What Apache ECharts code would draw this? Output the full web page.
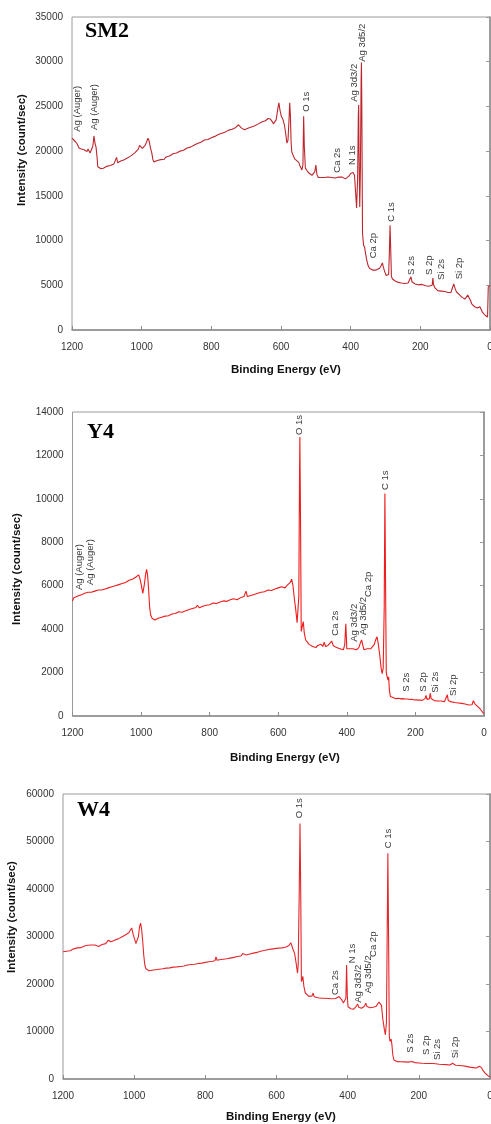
<!DOCTYPE html>
<html>
<head>
<meta charset="utf-8">
<script src="https://cdn.jsdelivr.net/npm/echarts@6/dist/echarts.min.js"></script>
<style>
html,body{margin:0;padding:0;background:#fff;}
#chart{width:491px;height:1124px;}
</style>
</head>
<body>
<div id="chart"></div>
<script>
// ---------- data (binding energy eV, intensity counts/sec) ----------
const panelNames = ['SM2', 'Y4', 'W4'];
const energyTicks = [1200, 1000, 800, 600, 400, 200, 0];
const yMax = [35000, 14000, 60000];
const yStep = [5000, 2000, 10000];

const sm2Spectrum = [
[1200,21450],[1195,21300],[1190,21050],[1185,20800],[1180,20350],[1177,20150],[1173,20250],[1169,20050],[1165,20150],[1161,19950],[1157,19950],[1154,20250],[1151,20300],[1148,19800],[1146,19600],[1143,19750],[1140,20600],[1137,21700],[1134,20900],[1131,20450],[1128,19300],[1126,18250],[1122,18150],[1118,18050],[1114,18100],[1110,18080],[1105,18200],[1100,18300],[1095,18250],[1090,18400],[1085,18450],[1080,18550],[1075,18600],[1072,19300],[1069,18700],[1065,18800],[1060,18900],[1055,18850],[1050,19050],[1045,19100],[1040,19250],[1035,19300],[1030,19500],[1025,19600],[1020,19800],[1015,19950],[1010,20200],[1006,20650],[1002,20500],[998,20300],[994,20350],[990,20650],[986,21000],[982,21450],[979,21200],[975,20400],[971,19800],[968,19100],[965,18800],[960,18850],[955,18950],[950,19000],[945,19050],[940,19150],[935,19100],[930,19350],[925,19250],[920,19450],[915,19500],[910,19700],[905,19600],[900,19800],[895,19900],[890,20000],[885,19950],[880,20100],[875,20250],[870,20350],[865,20300],[860,20450],[855,20550],[850,20650],[845,20600],[840,20850],[835,20950],[830,21000],[825,21100],[820,21250],[815,21200],[810,21300],[805,21450],[800,21500],[795,21550],[790,21650],[785,21750],[780,21850],[775,21800],[770,22000],[765,22100],[760,22150],[755,22200],[750,22350],[745,22300],[740,22450],[735,22500],[730,22650],[726,22750],[722,22950],[718,22800],[714,22600],[710,22500],[705,22400],[700,22450],[695,22550],[690,22600],[685,22700],[680,22800],[675,22850],[670,23000],[665,23050],[660,23200],[655,23250],[650,23350],[645,23400],[640,23500],[637,23650],[634,23800],[631,23600],[628,23550],[625,23300],[622,23050],[618,23150],[614,23500],[612,24000],[608,25000],[606,25400],[603,24600],[599,23900],[595,23600],[590,22900],[586,21800],[583,20900],[580,21200],[577,23500],[575,25400],[573,24000],[571,21000],[569,19900],[565,19500],[560,19100],[555,18950],[549,18750],[545,18300],[540,17900],[537,18500],[535,23900],[533,20500],[530,18100],[525,17800],[520,17550],[515,17400],[511,17300],[507,17350],[503,17700],[500,18450],[497,17400],[493,17050],[489,17000],[485,17050],[480,16950],[475,17050],[470,17000],[465,17100],[460,16950],[455,17050],[450,17100],[445,17000],[440,17050],[435,17100],[430,17000],[425,17100],[420,17050],[415,16900],[410,17000],[405,17200],[400,17500],[397,17700],[393,17600],[389,17300],[386,15500],[383,13650],[380,17000],[378,24000],[377,25150],[376,20000],[374,13750],[372,18000],[370,28000],[369,29900],[368,25000],[366,10850],[363,9500],[360,9250],[357,8500],[354,7850],[350,7200],[346,6900],[342,6750],[337,6700],[332,6750],[327,6700],[322,6800],[317,6900],[313,7150],[309,7500],[306,7000],[302,6500],[298,6100],[295,6000],[291,6200],[289,8500],[287,11700],[285,9000],[283,6000],[280,5700],[276,5550],[271,5450],[265,5350],[260,5300],[255,5250],[250,5250],[245,5200],[240,5250],[235,5250],[230,5350],[227,5950],[224,5400],[220,5250],[215,5150],[210,5100],[205,5050],[200,5000],[195,5100],[190,5000],[185,4950],[180,4900],[175,4900],[170,4850],[166,5000],[164,5800],[162,5050],[158,4700],[154,4500],[150,4400],[145,4400],[140,4350],[135,4350],[130,4300],[125,4250],[120,4200],[116,4200],[112,4200],[108,4700],[104,5150],[100,4600],[96,4250],[92,4150],[88,3950],[84,3800],[80,3650],[76,3550],[72,3450],[68,3550],[64,3900],[60,3700],[56,3300],[52,2900],[48,2700],[44,2600],[40,2500],[36,2450],[32,2500],[29,2600],[26,2350],[22,2000],[18,1800],[14,1650],[10,1450],[7,1450],[5,4800],[3,5000],[0,5000]
];

const y4Spectrum = [
[1200,5300],[1196,5450],[1192,5400],[1188,5500],[1184,5450],[1180,5550],[1176,5500],[1172,5600],[1168,5550],[1164,5650],[1160,5600],[1155,5700],[1150,5650],[1145,5700],[1140,5650],[1135,5750],[1130,5700],[1125,5800],[1120,5750],[1115,5800],[1110,5750],[1105,5850],[1100,5800],[1095,5900],[1090,5850],[1085,5950],[1080,5900],[1075,6000],[1070,5950],[1065,6050],[1060,6000],[1055,6100],[1050,6050],[1045,6150],[1040,6100],[1035,6250],[1030,6200],[1025,6300],[1020,6250],[1015,6400],[1010,6350],[1007,6500],[1003,6300],[999,6000],[995,5650],[991,6000],[987,6500],[984,6750],[981,6500],[978,5800],[975,5000],[972,4650],[968,4500],[964,4450],[960,4420],[955,4480],[950,4500],[945,4470],[940,4550],[935,4530],[930,4600],[925,4580],[920,4620],[915,4680],[910,4700],[905,4650],[900,4720],[895,4780],[890,4800],[885,4740],[880,4780],[875,4830],[870,4850],[865,4820],[860,4900],[855,4920],[850,4950],[845,4900],[840,5000],[836,5100],[830,4980],[825,5020],[820,5050],[815,5000],[810,5100],[805,5080],[800,5120],[795,5170],[790,5200],[785,5150],[780,5180],[775,5230],[770,5250],[765,5220],[760,5300],[755,5260],[750,5280],[745,5330],[740,5350],[735,5300],[730,5400],[725,5380],[720,5350],[715,5420],[710,5450],[705,5400],[700,5500],[697,5520],[694,5750],[690,5500],[685,5520],[680,5550],[675,5600],[670,5600],[665,5580],[660,5650],[655,5700],[650,5700],[645,5660],[640,5720],[635,5780],[630,5800],[625,5750],[620,5780],[615,5830],[610,5850],[605,5820],[600,5900],[595,5880],[590,5950],[585,5920],[580,5900],[575,6000],[570,5950],[565,6150],[561,6300],[557,6000],[553,5400],[549,4900],[545,4300],[542,4250],[540,5500],[538,11000],[537,12850],[535,9000],[533,3900],[530,3900],[527,4350],[524,3800],[520,3500],[515,3400],[510,3300],[505,3250],[500,3200],[495,3250],[490,3150],[485,3250],[480,3200],[475,3300],[470,3200],[466,3400],[462,3200],[455,3250],[450,3200],[444,3450],[440,3250],[435,3200],[430,3150],[425,3200],[420,3100],[415,3100],[410,3050],[406,3300],[403,4250],[400,3100],[397,3050],[392,3100],[387,3050],[382,3100],[377,3150],[372,3050],[368,3100],[365,3150],[362,3300],[357,3500],[354,3300],[350,3050],[346,3050],[340,3100],[335,3050],[330,3100],[325,3150],[320,3300],[316,3500],[312,3650],[308,3300],[304,2800],[300,2200],[297,1950],[294,2200],[291,5000],[289,10250],[287,6000],[285,2000],[283,1850],[280,1650],[278,1800],[276,1200],[273,900],[268,850],[262,830],[256,800],[250,820],[244,790],[238,800],[235,830],[230,780],[226,850],[222,780],[216,760],[210,770],[204,740],[198,750],[192,730],[186,740],[180,720],[175,750],[172,800],[169,950],[166,760],[162,700],[159,800],[157,1050],[154,800],[150,720],[145,710],[140,700],[135,690],[130,680],[125,690],[120,670],[115,660],[110,700],[107,980],[104,700],[100,680],[95,650],[90,640],[85,620],[80,610],[75,600],[70,590],[65,580],[60,560],[55,550],[50,520],[45,510],[40,500],[35,520],[31,700],[29,750],[26,550],[22,500],[18,430],[14,380],[10,300],[6,220],[3,150],[0,120]
];

const w4Spectrum = [
[1200,26800],[1195,26700],[1190,26900],[1185,27100],[1180,27000],[1175,27300],[1170,27400],[1165,27300],[1160,27600],[1155,27700],[1150,27650],[1145,27900],[1140,28000],[1135,27900],[1130,28150],[1125,28300],[1120,28200],[1115,28400],[1110,28200],[1105,28000],[1100,27900],[1095,28100],[1090,28300],[1085,28400],[1080,28500],[1076,28700],[1073,29200],[1070,28800],[1065,28900],[1060,29100],[1055,29200],[1050,29400],[1045,29500],[1040,29700],[1035,29900],[1030,30100],[1025,30300],[1020,30400],[1015,30800],[1011,31200],[1007,31800],[1003,30500],[999,29500],[995,28500],[991,28300],[988,30000],[985,32000],[982,32800],[979,31500],[976,29000],[973,26000],[970,24000],[967,23200],[963,22900],[958,22800],[950,22900],[945,22850],[940,23000],[935,22950],[930,23100],[925,23050],[920,23200],[915,23250],[910,23350],[905,23300],[900,23400],[895,23500],[890,23550],[885,23500],[880,23600],[875,23650],[870,23700],[865,23650],[860,23800],[855,23900],[850,24000],[845,23950],[840,24100],[835,24350],[830,24150],[825,24250],[820,24300],[815,24250],[810,24400],[805,24500],[800,24550],[795,24600],[790,24700],[785,24650],[780,24800],[776,24850],[773,24900],[770,25700],[767,25000],[763,25050],[760,25100],[755,25150],[750,25200],[745,25250],[740,25300],[735,25350],[730,25450],[725,25500],[720,25600],[715,25700],[710,25800],[705,25750],[700,25900],[695,26400],[690,26000],[685,26100],[680,26200],[675,26300],[670,26400],[665,26500],[660,26600],[655,26650],[650,26800],[645,26900],[640,27000],[635,27050],[630,27100],[625,27200],[620,27300],[615,27350],[610,27400],[605,27450],[600,27500],[595,27550],[590,27650],[585,27600],[580,27700],[575,27750],[570,27800],[565,28100],[560,28700],[557,28400],[553,27200],[549,26400],[545,24500],[541,22300],[539,24000],[536,40000],[534,53800],[532,40000],[530,20500],[528,21000],[526,21600],[523,19500],[519,18100],[514,17700],[509,17400],[504,17300],[500,17500],[497,18100],[494,17300],[489,17200],[484,17100],[479,17200],[474,17000],[469,17100],[464,17000],[459,17050],[454,16950],[449,17000],[444,16900],[439,17000],[434,16950],[429,17100],[424,17350],[420,17200],[416,16600],[412,16000],[408,15600],[405,17000],[403,24000],[401,17500],[399,15200],[395,15000],[391,14800],[387,15000],[383,14700],[379,15000],[376,15300],[372,15800],[369,15100],[365,15000],[361,14900],[357,15100],[353,15300],[349,15950],[346,15300],[342,15100],[338,15000],[333,15200],[328,15100],[324,15200],[320,15300],[316,15700],[312,16200],[308,16600],[305,15500],[301,12500],[297,10500],[294,9300],[291,12000],[289,30000],[287,47500],[285,30000],[283,9000],[281,7900],[278,8400],[276,7500],[273,5000],[270,4000],[265,3700],[260,3650],[255,3600],[250,3620],[245,3580],[240,3600],[235,3550],[230,3560],[225,3500],[220,3700],[216,3500],[210,3450],[205,3400],[200,3380],[195,3350],[190,3300],[185,3320],[180,3250],[175,3280],[170,3250],[165,3200],[160,3250],[156,3400],[153,3200],[148,3150],[143,3100],[138,3080],[133,3050],[128,3000],[123,3020],[118,2980],[113,2950],[108,3050],[105,3300],[102,3000],[97,2900],[92,2870],[87,2850],[82,2820],[77,2800],[72,2700],[67,2650],[62,2550],[57,2500],[52,2450],[47,2400],[42,2350],[38,2300],[34,2350],[30,2700],[27,2950],[24,2400],[20,1800],[16,1400],[12,1100],[8,800],[4,600],[0,490]
];

// peak annotations: [label, energy (eV), intensity at the label's lower end]
const sm2Peaks = [
['Ag (Auger)',1184,22170],['Ag (Auger)',1136,22360],['O 1s',528,24400],['Ca 2s',439,17590],['N 1s',396,18450],
['Ag 3d3/2',389,25520],['Ag 3d5/2',365,30000],['C 1s',282,12110],['Ca 2p',334,8010],
['S 2s',225,6150],['S 2p',174,6150],['Si 2s',139,5590],['Si 2p',87,5670]
];
const y4Peaks = [
['Ag (Auger)',1181,5800],['Ag (Auger)',1147,6030],['O 1s',537,12940],['C 1s',288,10410],['Ca 2p',338,5480],
['Ca 2s',433,3700],['Ag 3d3/2',379,3420],['Ag 3d5/2',353,3730],
['S 2s',225,1120],['S 2p',176,1120],['Si 2s',141,1070],['Si 2p',89,920]
];
const w4Peaks = [
['O 1s',536,54880],['C 1s',286,48560],['N 1s',388,24350],['Ca 2p',328,25700],['Ca 2s',435,17680],
['Ag 3d3/2',369,16060],['Ag 3d5/2',342,18040],
['S 2s',225,5540],['S 2p',179,5050],['Si 2s',148,4000],['Si 2p',98,4360]
];

const xTitle = 'Binding Energy (eV)';
const yTitle = 'Intensity (count/sec)';

// ---------- layout ----------
const FONT = '"Liberation Sans", Arial, sans-serif';
const grids = [
  {left: 72, top: 17, width: 418, height: 313},
  {left: 72.5, top: 412, width: 411.5, height: 304},
  {left: 63, top: 794, width: 427, height: 285}
];
const lineColors = ['#bd262c', '#ee1c1c', '#e4262b'];
const spectra = [sm2Spectrum, y4Spectrum, w4Spectrum];
const peaks = [sm2Peaks, y4Peaks, w4Peaks];
const plain = v => String(v);

const option = {
  animation: false,
  backgroundColor: '#fff',
  grid: grids.map(g => Object.assign({show: true, borderColor: '#9a9a9a', borderWidth: 1,
    backgroundColor: 'transparent', containLabel: false, outerBoundsMode: 'none'}, g)),
  xAxis: grids.map((g, i) => ({
    gridIndex: i, type: 'value', min: 0, max: 1200, interval: 200, inverse: true,
    axisLine: {show: true, lineStyle: {color: '#8c8c8c', width: 1.5}},
    axisTick: {show: true, inside: true, length: 4, lineStyle: {color: '#8c8c8c'}},
    axisLabel: {color: '#333', fontSize: 10, fontFamily: FONT, margin: 12, formatter: plain,
      showMinLabel: true, showMaxLabel: true, hideOverlap: false},
    splitLine: {show: false}
  })),
  yAxis: [].concat(
    grids.map((g, i) => ({
      gridIndex: i, type: 'value', min: 0, max: yMax[i], interval: yStep[i], position: 'left',
      axisLine: {show: true, lineStyle: {color: '#8c8c8c', width: 1.5}},
      axisTick: {show: false},
      axisLabel: {color: '#333', fontSize: 10, fontFamily: FONT, margin: 9, formatter: plain},
      splitLine: {show: false}
    })),
    grids.map((g, i) => ({
      gridIndex: i, type: 'value', min: 0, max: yMax[i], interval: yStep[i], position: 'right',
      axisLine: {show: true, lineStyle: {color: '#9a9a9a', width: 1}},
      axisTick: {show: true, inside: true, length: 4, lineStyle: {color: '#9a9a9a'}},
      axisLabel: {show: false},
      splitLine: {show: false}
    }))
  ),
  series: [].concat(
    spectra.map((d, i) => ({
      type: 'line', xAxisIndex: i, yAxisIndex: i, data: d, showSymbol: false, symbol: 'none',
      lineStyle: {color: lineColors[i], width: 1.1}, silent: true, z: 3
    })),
    peaks.map((p, i) => ({
      type: 'scatter', xAxisIndex: i, yAxisIndex: i, symbolSize: 0, silent: true, z: 4,
      data: p.map(r => ({name: r[0], value: [r[1], r[2]]})),
      label: {show: true, formatter: '{b}', rotate: 90, position: [0, 0], align: 'left', verticalAlign: 'middle',
        fontSize: 9.5, fontFamily: FONT, color: '#000'}
    }))
  ),
  graphic: [].concat(
    [
      {x: 85, y: 33, name: panelNames[0]},
      {x: 87, y: 434, name: panelNames[1]},
      {x: 77, y: 812, name: panelNames[2]}
    ].map(t => ({type: 'text', left: t.x, top: t.y - 13, style: {text: t.name, font: 'bold 22px "Liberation Serif", "Times New Roman", serif', fill: '#000'}})),
    [[286, 370], [285, 758], [281, 1117]].map(c => ({
      type: 'text', x: c[0], y: c[1], style: {text: xTitle, font: 'bold 11.5px ' + FONT, fill: '#111', align: 'center', verticalAlign: 'middle'}
    })),
    [[22, 150], [17, 569], [12, 917]].map(c => ({
      type: 'text', x: c[0], y: c[1], rotation: Math.PI / 2,
      style: {text: yTitle, font: 'bold 11.5px ' + FONT, fill: '#111', align: 'center', verticalAlign: 'middle'}
    }))
  )
};

const chart = echarts.init(document.getElementById('chart'), null, {renderer: 'canvas'});
chart.setOption(option);
</script>
</body>
</html>
